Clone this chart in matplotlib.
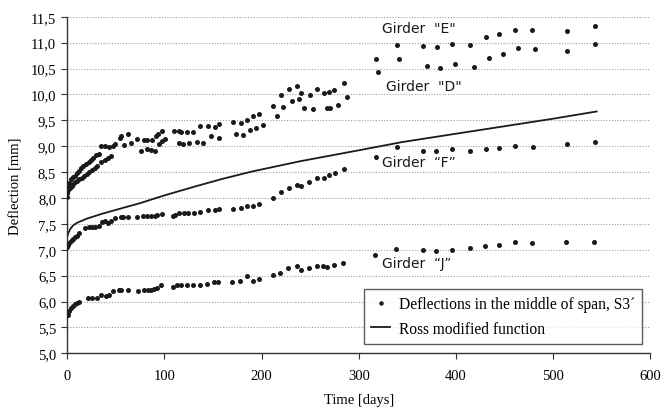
import matplotlib
matplotlib.use("Agg")
from matplotlib import pyplot as plt
from matplotlib.ticker import FuncFormatter

# girder E
e_days = [0, 1, 2, 3.5, 5.5, 7.6, 9.7, 11.7, 14, 16.5, 19, 22, 24.5, 26.8, 29.5, 32.3, 35, 39.1, 43, 47.3,
          49.4, 54.2, 55.6, 62.5, 72, 78.9, 82.3, 87.2, 91.3, 93.3, 97.5, 109.8, 114.6, 117.3, 122.9, 129.7,
          136.6, 144.8, 152.3, 155.8, 170.8, 178.5, 184.6, 191.4, 197.6, 212, 219.6, 227.8, 236, 240.8,
          249.8, 257.3, 264.2, 269, 275, 284.8, 317.7, 339.3, 366.4, 380.2, 395.9, 415.1, 430.9, 444.6,
          460.7, 478.9, 514, 543]
e_vals = [8.12, 8.22, 8.28, 8.36, 8.40, 8.43, 8.48, 8.53, 8.57, 8.61, 8.65, 8.69, 8.73, 8.78, 8.82, 8.85,
          9.01, 9.01, 8.98, 9.01, 9.05, 9.15, 9.20, 9.24, 9.14, 9.12, 9.12, 9.12, 9.20, 9.23, 9.29, 9.30,
          9.29, 9.27, 9.27, 9.28, 9.39, 9.39, 9.37, 9.43, 9.47, 9.45, 9.51, 9.58, 9.62, 9.78, 9.98, 10.10,
          10.16, 10.02, 9.98, 10.10, 10.03, 10.05, 10.08, 10.22, 10.68, 10.95, 10.93, 10.91, 10.98, 10.96,
          11.11, 11.16, 11.25, 11.25, 11.22, 11.33]

# girder D
d_days = [0, 0, 1, 2.8, 4.5, 6.2, 8, 10.3, 12.5, 15.1, 17.5, 20, 22.5, 25.4, 28, 30.3, 34.4, 38.5, 41.5,
          44.7, 58.4, 65.9, 75.5, 81.7, 85.8, 90.6, 94, 97.5, 100.9, 114.6, 119.4, 125.6, 133.2, 140,
          147.6, 155.8, 173.6, 181.1, 188, 194.2, 201, 215.5, 222.3, 231.2, 238.8, 243.6, 252.5, 267,
          270.5, 278.6, 287.5, 319.7, 341, 369.9, 383.6, 399, 418.5, 433.7, 448.1, 463.8, 481.6, 514, 543]
d_vals = [8.01, 8.09, 8.15, 8.20, 8.23, 8.26, 8.30, 8.33, 8.36, 8.39, 8.43, 8.47, 8.50, 8.54, 8.58, 8.62,
          8.69, 8.73, 8.77, 8.81, 9.03, 9.06, 8.91, 8.94, 8.93, 8.91, 9.05, 9.10, 9.14, 9.06, 9.05, 9.07,
          9.09, 9.06, 9.19, 9.15, 9.23, 9.22, 9.32, 9.36, 9.41, 9.58, 9.76, 9.88, 9.92, 9.74, 9.72, 9.73,
          9.73, 9.79, 9.95, 10.44, 10.69, 10.55, 10.51, 10.58, 10.53, 10.71, 10.78, 10.89, 10.87, 10.83,
          10.97]

# girder F
f_days = [0, 1, 2.8, 4.5, 6.2, 8, 9.7, 11.7, 17.9, 22, 25.4, 28.2, 32.3, 35.7, 39.1, 41.9, 44.7, 49.4,
          55, 57.6, 62.5, 72, 78, 82, 86, 90, 92.6, 97.5, 109, 111, 114.6, 120, 124, 130, 136.6, 144.8,
          152, 155.8, 170.8, 178.5, 184.6, 191.4, 197.6, 212, 219.6, 227.8, 236, 240.8, 249, 257.3, 264.2,
          269, 275.2, 284.8, 317.7, 339, 366.4, 380, 396, 415, 431, 444.6, 460.7, 479, 514, 543]
f_vals = [7.05, 7.10, 7.14, 7.18, 7.21, 7.25, 7.27, 7.32, 7.42, 7.44, 7.44, 7.44, 7.46, 7.53, 7.55, 7.52,
          7.55, 7.61, 7.64, 7.64, 7.64, 7.64, 7.66, 7.66, 7.66, 7.66, 7.67, 7.69, 7.66, 7.68, 7.71, 7.71,
          7.71, 7.71, 7.73, 7.76, 7.77, 7.79, 7.79, 7.81, 7.85, 7.85, 7.88, 8.00, 8.12, 8.19, 8.25, 8.24,
          8.30, 8.39, 8.38, 8.44, 8.49, 8.56, 8.80, 8.98, 8.91, 8.91, 8.94, 8.91, 8.94, 8.96, 9.01, 8.98,
          9.04, 9.08]

# girder J
j_days = [0.7, 2, 3.5, 5.5, 7.6, 9.7, 11.7, 21.3, 25.4, 30.9, 35, 39.8, 42.6, 47.3, 52.9, 55.6, 62.5,
          72.8, 79, 82.6, 86, 89.2, 92.6, 96.7, 109, 112.6, 117, 122.9, 129.7, 136.6, 144, 151, 155, 170,
          177.7, 184.6, 190.8, 197.6, 212, 218.9, 227.1, 236, 240.2, 249, 257.3, 263.5, 267.6, 274.5, 284,
          317, 338, 365.7, 380, 396, 414.4, 430, 444.6, 460.7, 478, 513, 542.4]
j_vals = [5.74, 5.82, 5.88, 5.91, 5.95, 5.97, 6.00, 6.07, 6.06, 6.07, 6.13, 6.11, 6.13, 6.20, 6.22, 6.22,
          6.22, 6.20, 6.23, 6.23, 6.23, 6.24, 6.27, 6.31, 6.29, 6.31, 6.31, 6.31, 6.31, 6.31, 6.33, 6.37,
          6.38, 6.38, 6.40, 6.49, 6.40, 6.43, 6.51, 6.56, 6.65, 6.68, 6.60, 6.64, 6.68, 6.68, 6.66, 6.70,
          6.75, 6.90, 7.01, 7.00, 6.97, 7.00, 7.03, 7.07, 7.09, 7.14, 7.13, 7.14, 7.15]

# Ross modified function
ross_days = [0, 1, 3, 6, 10, 20, 35, 50, 75, 100, 135, 160, 190, 240, 300, 345, 400, 445, 500, 545]
ross_vals = [7.26, 7.32, 7.40, 7.47, 7.52, 7.60, 7.69, 7.77, 7.90, 8.05, 8.24, 8.37, 8.51, 8.71, 8.92,
             9.08, 9.24, 9.37, 9.53, 9.67]

girder_labels = ['Girder  "E"', 'Girder  "D"', 'Girder  \u201cF\u201d', 'Girder  \u201cJ\u201d']
label_pos = [(324, 11.28), (328, 10.17), (324, 8.69), (324, 6.74)]

serif = 'Liberation Serif'

fig = plt.figure(figsize=(6.64, 4.14), dpi=100)
ax = fig.add_axes([0.1014, 0.1442, 0.8776, 0.8130])

all_days = e_days + d_days + f_days + j_days
all_vals = e_vals + d_vals + f_vals + j_vals
pts, = ax.plot(all_days, all_vals, 'o', color='#1a1a1a', markersize=3.6, markeredgewidth=0,
               label='Deflections in the middle of span, S3\u00b4', zorder=3)
line, = ax.plot(ross_days, ross_vals, '-', color='#1a1a1a', lw=1.3, label='Ross modified function', zorder=2)

for txt, (x, y) in zip(girder_labels, label_pos):
    ax.text(x, y, txt, fontsize=10, family='DejaVu Sans', ha='left', va='center', color='#1a1a1a')

ax.set_xlim(0, 600)
ax.set_ylim(5.0, 11.5)
ax.set_xticks(range(0, 601, 100))
ax.set_yticks([5 + 0.5 * i for i in range(14)])
ax.yaxis.set_major_formatter(FuncFormatter(lambda v, p: ('%.1f' % v).replace('.', ',')))
ax.yaxis.grid(True, linestyle=(0, (1, 1.5)), color='#a0a0a0', lw=0.8)
ax.set_axisbelow(True)
for s in ['top', 'right']:
    ax.spines[s].set_visible(False)
for s in ['left', 'bottom']:
    ax.spines[s].set_color('#333333')
    ax.spines[s].set_linewidth(1.0)
ax.tick_params(direction='out', length=4, color='#333333', labelsize=10.5, pad=4)
ax.tick_params(axis='x', pad=7)
for lab in ax.get_xticklabels() + ax.get_yticklabels():
    lab.set_family(serif)

ax.set_xlabel('Time [days]', family=serif, fontsize=10.5, labelpad=8)
ax.set_ylabel('Deflection [mm]', family=serif, fontsize=10.5, labelpad=6)

leg = ax.legend(handles=[pts, line], loc='lower right', bbox_to_anchor=(0.987, 0.028),
                prop={'family': serif, 'size': 11.2}, frameon=True, fancybox=False,
                handlelength=1.2, handletextpad=0.6, borderpad=0.45, labelspacing=0.55,
                borderaxespad=0, markerscale=0.9)
leg.get_frame().set_edgecolor('#333333')
leg.get_frame().set_linewidth(1.0)

fig.savefig('out.png', dpi=100)
